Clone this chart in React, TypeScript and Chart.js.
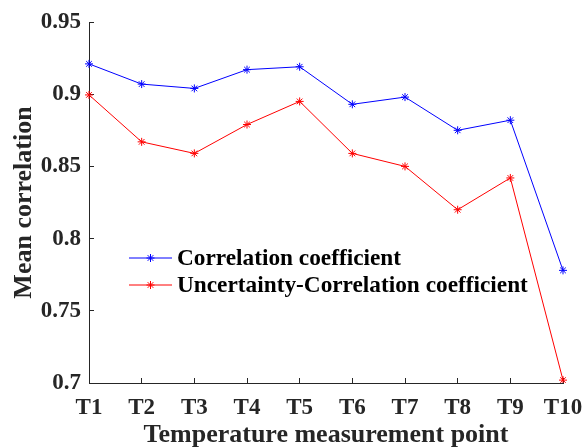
import React, { useEffect, useRef } from "react";
import { Chart, registerables } from "chart.js";

Chart.register(...registerables);

const categories = ["T1", "T2", "T3", "T4", "T5", "T6", "T7", "T8", "T9", "T10"];
const correlation = [0.921, 0.907, 0.904, 0.917, 0.919, 0.893, 0.898, 0.875, 0.882, 0.778];
const uncertaintyCorrelation = [0.8995, 0.867, 0.859, 0.879, 0.895, 0.859, 0.850, 0.820, 0.842, 0.702];
const seriesNames = ["Correlation coefficient", "Uncertainty-Correlation coefficient"];
const seriesColors = ["#0000FF", "#FF0000"];
const xTitle = "Temperature measurement point";
const yTitle = "Mean correlation";

const AXIS_COLOR = "#262626";
const FONT = "'Liberation Serif', 'Times New Roman', serif";

function drawStar(ctx: CanvasRenderingContext2D, x: number, y: number, r: number) {
  ctx.beginPath();
  ctx.moveTo(x - r, y);
  ctx.lineTo(x + r, y);
  ctx.moveTo(x, y - r);
  ctx.lineTo(x, y + r);
  const d = r * Math.SQRT1_2;
  ctx.moveTo(x - d, y - d);
  ctx.lineTo(x + d, y + d);
  ctx.moveTo(x - d, y + d);
  ctx.lineTo(x + d, y - d);
  ctx.stroke();
}

const legendPlugin = {
  id: "insideLegend",
  afterDraw(chart: any) {
    const ctx: CanvasRenderingContext2D = chart.ctx;
    const rows = [258, 285];
    ctx.save();
    seriesNames.forEach((name, i) => {
      const y = rows[i];
      ctx.strokeStyle = seriesColors[i];
      ctx.lineWidth = 1;
      ctx.beginPath();
      ctx.moveTo(129, y);
      ctx.lineTo(172, y);
      ctx.stroke();
      drawStar(ctx, 150.5, y, 4);
      ctx.fillStyle = "#000000";
      ctx.font = `bold 23.3px ${FONT}`;
      ctx.textAlign = "left";
      ctx.textBaseline = "middle";
      ctx.fillText(name, 177, y + 1);
    });
    ctx.restore();
  },
};

export default function App() {
  const canvasRef = useRef<HTMLCanvasElement | null>(null);

  useEffect(() => {
    const canvas = canvasRef.current;
    if (!canvas) return;
    const chart = new Chart(canvas, {
      type: "line",
      data: {
        labels: categories,
        datasets: [
          {
            label: seriesNames[0],
            data: correlation,
            borderColor: seriesColors[0],
            backgroundColor: seriesColors[0],
            borderWidth: 1,
            pointStyle: "star",
            pointRadius: 4,
            pointBorderWidth: 1,
            pointBorderColor: seriesColors[0],
            tension: 0,
            fill: false,
          },
          {
            label: seriesNames[1],
            data: uncertaintyCorrelation,
            borderColor: seriesColors[1],
            backgroundColor: seriesColors[1],
            borderWidth: 1,
            pointStyle: "star",
            pointRadius: 4,
            pointBorderWidth: 1,
            pointBorderColor: seriesColors[1],
            tension: 0,
            fill: false,
          },
        ],
      },
      options: {
        responsive: false,
        animation: false,
        devicePixelRatio: 1,
        layout: { padding: { left: 0, right: 20, top: 22, bottom: 0 } },
        plugins: {
          legend: { display: false },
          tooltip: { enabled: false },
          title: { display: false },
        },
        scales: {
          x: {
            type: "category",
            offset: false,
            grid: {
              offset: false,
              drawOnChartArea: false,
              tickLength: -5,
              color: AXIS_COLOR,
            },
            border: { display: true, color: AXIS_COLOR, width: 1 },
            ticks: {
              color: AXIS_COLOR,
              padding: 16,
              maxRotation: 0,
              autoSkip: false,
              font: { family: FONT, size: 23, weight: "bold" },
            },
            title: {
              display: true,
              text: xTitle,
              color: AXIS_COLOR,
              font: { family: FONT, size: 26, weight: "bold", lineHeight: 1 },
              padding: { top: 0, bottom: 0 },
            },
            afterFit: (scale: any) => {
              scale.height = 65;
              scale.paddingLeft = 0;
              scale.paddingRight = 0;
            },
          },
          y: {
            type: "linear",
            min: 0.7,
            max: 0.95,
            grid: {
              drawOnChartArea: false,
              tickLength: -5,
              color: AXIS_COLOR,
            },
            border: { display: true, color: AXIS_COLOR, width: 1 },
            ticks: {
              stepSize: 0.05,
              color: AXIS_COLOR,
              padding: 13,
              font: { family: FONT, size: 23, weight: "bold" },
              callback: (v: any) => String(+Number(v).toFixed(2)),
            },
            title: {
              display: true,
              text: yTitle,
              color: AXIS_COLOR,
              font: { family: FONT, size: 26, weight: "bold", lineHeight: 1 },
              padding: { top: 11, bottom: 0 },
            },
            afterFit: (scale: any) => {
              scale.width = 89;
              scale.paddingTop = 0;
              scale.paddingBottom = 0;
            },
          },
        },
      },
      plugins: [legendPlugin],
    } as any);
    return () => chart.destroy();
  }, []);

  return (
    <div style={{ position: "absolute", left: 0, top: 0, width: 583, height: 448, background: "#fff" }}>
      <canvas ref={canvasRef} width={583} height={448} style={{ display: "block" }} />
    </div>
  );
}
